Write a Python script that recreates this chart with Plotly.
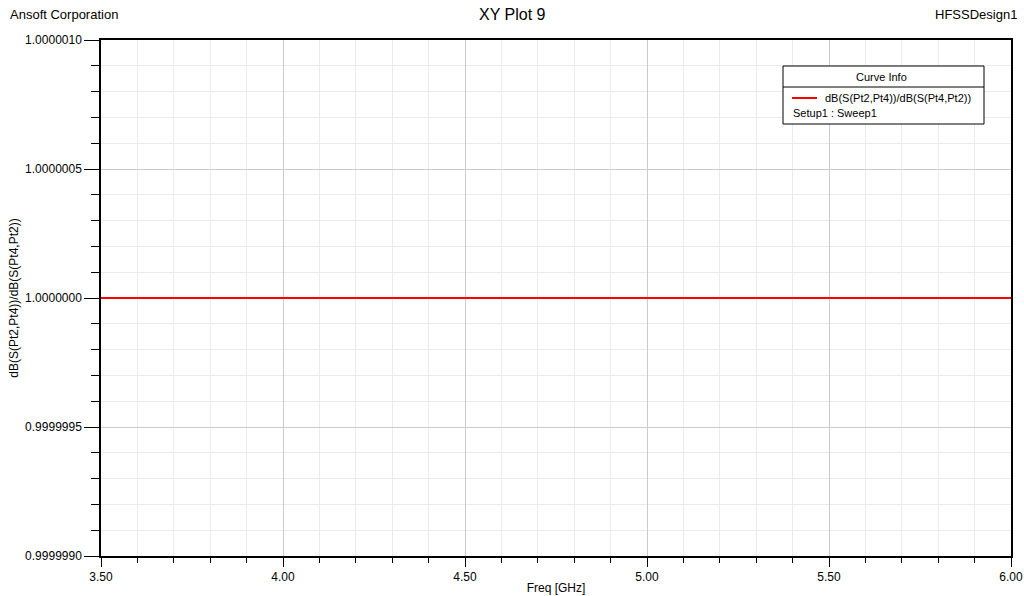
import plotly.graph_objects as go

freq_ghz = [3.5, 4.0, 4.5, 5.0, 5.5, 6.0]
ratio = [1.0, 1.0, 1.0, 1.0, 1.0, 1.0]
x_ticks = [3.5, 4.0, 4.5, 5.0, 5.5, 6.0]
x_tick_labels = ["3.50", "4.00", "4.50", "5.00", "5.50", "6.00"]
y_ticks = [0.999999, 0.9999995, 1.0, 1.0000005, 1.000001]
y_tick_labels = ["0.9999990", "0.9999995", "1.0000000", "1.0000005", "1.0000010"]
curve_name = "dB(S(Pt2,Pt4))/dB(S(Pt4,Pt2))"
setup_name = "Setup1 : Sweep1"

FONT = "Liberation Sans, Arial, sans-serif"

fig = go.Figure()
fig.add_trace(go.Scatter(x=freq_ghz, y=ratio, mode="lines",
                         line=dict(color="#ff0000", width=2),
                         name=curve_name, showlegend=False))

axis_common = dict(showline=True, linecolor="black", linewidth=1.5, mirror=True,
                   ticks="outside", tickcolor="black", zeroline=False,
                   gridcolor="#cccccc", gridwidth=1, automargin=False,
                   tickfont=dict(family=FONT, size=12, color="black"))

fig.update_xaxes(range=[3.5, 6.0], tickvals=x_ticks, ticktext=x_tick_labels,
                 ticklen=9, tickwidth=1,
                 minor=dict(dtick=0.1, tick0=3.5, ticks="outside", ticklen=5,
                            tickcolor="black", showgrid=True, gridcolor="#ebebeb"),
                 title=dict(text="Freq [GHz]", font=dict(family=FONT, size=12, color="black"),
                            standoff=0),
                 **axis_common)
fig.update_yaxes(range=[0.999999, 1.000001], tickvals=y_ticks, ticktext=y_tick_labels,
                 ticklen=15, tickwidth=1,
                 minor=dict(dtick=1e-7, tick0=0.999999, ticks="outside", ticklen=8,
                            tickcolor="black", showgrid=True, gridcolor="#ebebeb"),
                 title=dict(text="dB(S(Pt2,Pt4))/dB(S(Pt4,Pt2))",
                            font=dict(family=FONT, size=12, color="black"), standoff=4),
                 **axis_common)

fig.update_layout(width=1024, height=596,
                  margin=dict(l=101, r=13, t=40, b=40, autoexpand=False),
                  paper_bgcolor="white", plot_bgcolor="white",
                  showlegend=False, font=dict(family=FONT, color="black"))

# Header texts
fig.add_annotation(text="Ansoft Corporation", xref="paper", yref="paper",
                   x=(8-101)/910, y=1 + 25/516, xanchor="left", yanchor="middle",
                   showarrow=False, font=dict(family=FONT, size=13))
fig.add_annotation(text="XY Plot 9", xref="paper", yref="paper",
                   x=(512-101)/910, y=1 + 25/516, xanchor="center", yanchor="middle",
                   showarrow=False, font=dict(family=FONT, size=16))
fig.add_annotation(text="HFSSDesign1", xref="paper", yref="paper",
                   x=(1019-101)/910, y=1 + 25/516, xanchor="right", yanchor="middle",
                   showarrow=False, font=dict(family=FONT, size=13))

# Curve info box
def px(x):
    return (x - 101) / 910

def py(y):
    return (556 - y) / 516

fig.add_shape(type="rect", xref="paper", yref="paper",
              x0=px(783), x1=px(984), y0=py(124), y1=py(66),
              line=dict(color="black", width=1), fillcolor="white", layer="above")
fig.add_shape(type="line", xref="paper", yref="paper",
              x0=px(783), x1=px(984), y0=py(87), y1=py(87),
              line=dict(color="black", width=1), layer="above")
fig.add_shape(type="line", xref="paper", yref="paper",
              x0=px(792), x1=px(817), y0=py(98), y1=py(98),
              line=dict(color="#ff0000", width=2), layer="above")
fig.add_annotation(text="Curve Info", xref="paper", yref="paper",
                   x=px(881), y=py(77), xanchor="center", yanchor="middle",
                   showarrow=False, font=dict(family=FONT, size=11))
fig.add_annotation(text=curve_name, xref="paper", yref="paper",
                   x=px(823), y=py(98), xanchor="left", yanchor="middle",
                   showarrow=False, font=dict(family=FONT, size=11))
fig.add_annotation(text=setup_name, xref="paper", yref="paper",
                   x=px(791), y=py(113), xanchor="left", yanchor="middle",
                   showarrow=False, font=dict(family=FONT, size=11))

fig.write_html("out.html")
